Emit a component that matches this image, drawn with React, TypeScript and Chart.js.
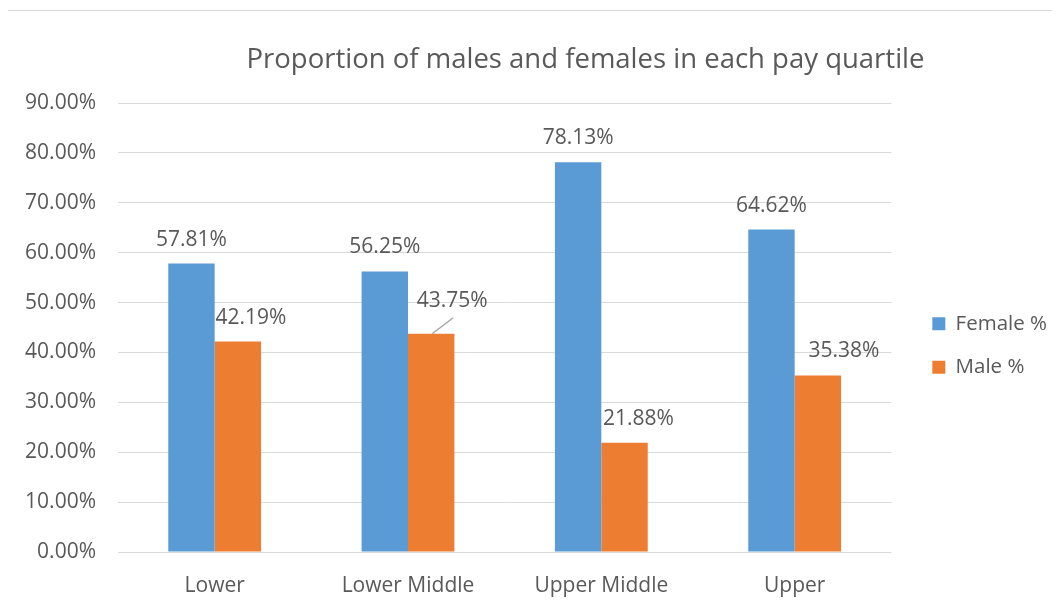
import React, { useEffect, useRef } from "react";
import { Chart, registerables } from "chart.js";

Chart.register(...registerables);

// ---- data ----
const categories = ["Lower", "Lower Middle", "Upper Middle", "Upper"];
const femaleValues = [57.81, 56.25, 78.13, 64.62];
const maleValues = [42.19, 43.75, 21.88, 35.38];
const seriesNames = ["Female %", "Male %"];
const titleText = "Proportion of males and females in each pay quartile";
const yMin = 0;
const yMax = 90;
const yStep = 10;

// ---- styles ----
const FONT = "'Open Sans', sans-serif";
const TEXT = "#595959";
const GRID = "#d9d9d9";
const FEMALE_COLOR = "#5B9BD5";
const MALE_COLOR = "#ED7D31";
// label nudges (Excel placed the male labels slightly to the right)
const maleLabelNudge = [
  { dx: 13, dy: 0, leader: false },
  { dx: 21, dy: -9, leader: true },
  { dx: 14, dy: 0, leader: false },
  { dx: 26, dy: 0, leader: false },
];
const LEGEND_SHIFT_X = 18;
const LEGEND_SHIFT_Y = 37;

const fmt = (v: number) => v.toFixed(2) + "%";

const layoutTweaks = {
  id: "layoutTweaks",
  afterLayout(chart: any) {
    const lg = chart.legend;
    if (lg) {
      lg.left += LEGEND_SHIFT_X;
      lg.right += LEGEND_SHIFT_X;
      lg.top += LEGEND_SHIFT_Y;
      lg.bottom += LEGEND_SHIFT_Y;
    }
    const t = chart.titleBlock;
    if (t && lg) {
      t.left = chart.chartArea.left;
      t.right = lg.right - 4;
    }
  },
};

const dataLabels = {
  id: "dataLabels",
  afterDatasetsDraw(chart: any) {
    const ctx = chart.ctx;
    ctx.save();
    ctx.font = `21px ${FONT}`;
    ctx.fillStyle = TEXT;
    ctx.textAlign = "center";
    ctx.textBaseline = "alphabetic";
    chart.data.datasets.forEach((ds: any, di: number) => {
      const meta = chart.getDatasetMeta(di);
      meta.data.forEach((bar: any, i: number) => {
        const v = ds.data[i] as number;
        const s = di === 1 ? maleLabelNudge[i] : { dx: 0, dy: 0, leader: false };
        const x = bar.x + s.dx;
        const y = bar.y - 18 + s.dy;
        if (s.leader) {
          ctx.save();
          ctx.strokeStyle = "#a6a6a6";
          ctx.lineWidth = 1.5;
          ctx.beginPath();
          ctx.moveTo(bar.x + 1, bar.y);
          ctx.lineTo(x + 1, y + 11);
          ctx.stroke();
          ctx.restore();
        }
        ctx.fillText(fmt(v), x, y);
      });
    });
    ctx.restore();
  },
};

export default function App() {
  const ref = useRef<HTMLCanvasElement>(null);

  useEffect(() => {
    if (!ref.current) return;
    Chart.defaults.font.family = FONT;
    Chart.defaults.color = TEXT;
    const chart = new Chart(ref.current, {
      type: "bar",
      data: {
        labels: categories,
        datasets: [
          {
            label: seriesNames[0],
            data: femaleValues,
            backgroundColor: FEMALE_COLOR,
            borderWidth: 0,
            categoryPercentage: 0.48,
            barPercentage: 1,
          },
          {
            label: seriesNames[1],
            data: maleValues,
            backgroundColor: MALE_COLOR,
            borderWidth: 0,
            categoryPercentage: 0.48,
            barPercentage: 1,
          },
        ],
      },
      options: {
        responsive: false,
        animation: false,
        devicePixelRatio: 1,
        layout: { padding: { left: 0, right: 20, top: 0, bottom: 0 } },
        plugins: {
          title: {
            display: true,
            text: titleText,
            color: TEXT,
            font: { family: FONT, size: 27.5, weight: "normal" },
            padding: { top: 33, bottom: 26 },
          },
          legend: {
            display: true,
            position: "right",
            align: "center",
            labels: {
              boxWidth: 13,
              boxHeight: 13,
              padding: 23,
              color: TEXT,
              font: { family: FONT, size: 20.5 },
            },
          },
          tooltip: { enabled: false },
        },
        scales: {
          x: {
            grid: { display: false, drawTicks: false },
            border: { display: false },
            ticks: { color: TEXT, font: { family: FONT, size: 21 }, padding: 21 },
            afterFit(scale: any) {
              scale.height = 54;
            },
          },
          y: {
            min: yMin,
            max: yMax,
            grid: { color: GRID, lineWidth: 1, drawTicks: false },
            border: { display: false },
            ticks: {
              stepSize: yStep,
              color: TEXT,
              font: { family: FONT, size: 21 },
              padding: 22,
              callback: (v: any) => fmt(Number(v)),
            },
            afterFit(scale: any) {
              scale.width = 110;
            },
          },
        },
      },
      plugins: [layoutTweaks, dataLabels],
    } as any);
    return () => chart.destroy();
  }, []);

  return (
    <div
      style={{
        position: "relative",
        left: -1,
        top: 2,
        width: 1052,
        height: 596,
        boxSizing: "border-box",
        borderTop: "1px solid #d9d9d9",
        borderLeft: "1px solid #d9d9d9",
      }}
    >
      <canvas ref={ref} width={1051} height={595} style={{ display: "block", width: 1051, height: 595 }} />
    </div>
  );
}
